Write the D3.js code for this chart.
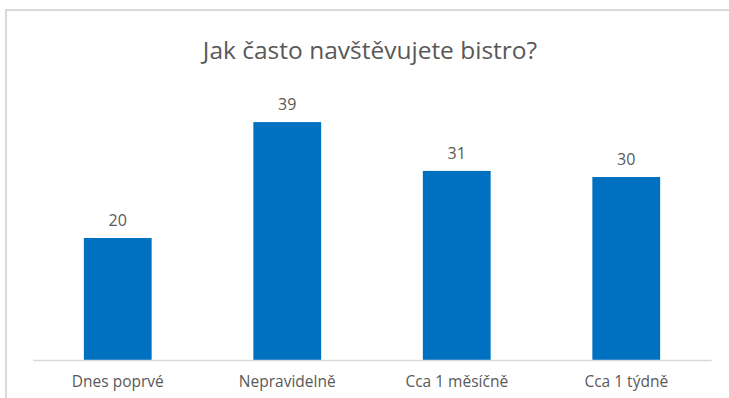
<!DOCTYPE html>
<html><head><meta charset="utf-8">
<script src="https://cdn.jsdelivr.net/npm/d3@7"></script>
<style>body{margin:0;background:#fff;}svg{display:block;}</style>
</head><body>
<script>
const title = "Jak často navštěvujete bistro?";
const categories = ["Dnes poprvé", "Nepravidelně", "Cca 1 měsíčně", "Cca 1 týdně"];
const values = [20, 39, 31, 30];

const W = 729, H = 398;
const font = "'Open Sans', sans-serif";
const svg = d3.select("body").append("svg").attr("width", W).attr("height", H);
svg.append("rect").attr("width", W).attr("height", H).attr("fill", "#fff");

svg.append("path").attr("d", `M6,${H} L6,10 L${W},10`).attr("fill", "none")
  .attr("stroke", "#d9d9d9").attr("stroke-width", 2);

const x = d3.scaleBand().domain(categories).range([33, 711]).paddingInner(0.6).paddingOuter(0.3);
const y = d3.scaleLinear().domain([0, 45]).range([360, 360 - 45 * 6.1]);

svg.append("text").attr("x", 370).attr("y", 59).attr("text-anchor", "middle")
  .attr("font-family", font).attr("font-size", 24.5).attr("fill", "#595959").text(title);

svg.selectAll("rect.bar").data(values).join("rect").attr("class", "bar")
  .attr("x", (d, i) => x(categories[i])).attr("width", x.bandwidth())
  .attr("y", d => y(d)).attr("height", d => y(0) - y(d)).attr("fill", "#0070c0");

svg.selectAll("text.val").data(values).join("text").attr("class", "val")
  .attr("x", (d, i) => x(categories[i]) + x.bandwidth() / 2).attr("y", d => y(d) - 12)
  .attr("text-anchor", "middle").attr("font-family", font).attr("font-size", 16)
  .attr("fill", "#595959").text(d => d);

const ax = svg.append("g").attr("transform", `translate(0,${y(0)})`)
  .call(d3.axisBottom(x).tickSize(0).tickPadding(16));
ax.select(".domain").attr("stroke", "#d9d9d9").attr("stroke-width", 1.5);
ax.selectAll("text").attr("font-family", font).attr("font-size", 15.5).attr("fill", "#595959");
</script>
</body></html>
